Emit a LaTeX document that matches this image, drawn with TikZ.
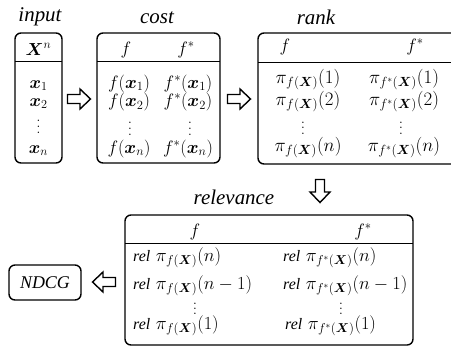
\RequirePackage{fix-cm}
\documentclass[tikz,border=0pt]{standalone}
\usepackage{amsmath}
\usepackage{bm}
\usepackage{fontspec}
\newfontfamily\labfont{Liberation Serif}
\newcommand\mydots[1]{\vbox{\baselineskip=#1\lineskiplimit=-20pt\hbox{.}\hbox{.}\hbox{.}}}
\tikzset{
  box/.style={draw, line width=1.4bp, rounded corners=6bp, inner sep=0pt},
  hdr/.style={line width=1bp},
  lab/.style={font=\fontsize{21}{23}\selectfont\labfont\itshape, inner sep=0pt, anchor=base},
  inent/.style={font=\fontsize{17.5}{19}\selectfont, inner sep=0pt, anchor=base},
  ent/.style={font=\fontsize{18}{20}\selectfont, inner sep=0pt, anchor=base},
  rkent/.style={font=\fontsize{19}{21}\selectfont, inner sep=0pt, anchor=base},
  rent/.style={font=\fontsize{18.5}{20}\selectfont, inner sep=0pt, anchor=base west},
  dts/.style={font=\fontsize{17}{19}\selectfont, inner sep=0pt, anchor=center},
  hollow/.pic={\draw[line width=1.4bp, line join=miter] (-11.5,-4.5) -- (1,-4.5) -- (1,-10) -- (11.5,0) -- (1,10) -- (1,4.5) -- (-11.5,4.5) -- cycle;},
}
\newcommand\rl{{\labfont\itshape\fontsize{16}{18}\selectfont rel}}
\begin{document}
\begin{tikzpicture}[x=1bp,y=-1bp]
\useasboundingbox (0,0) rectangle (451,349);
% boxes
\node[box, minimum width=47bp, minimum height=130bp] (inp) at (38.5,98) {};
\node[box, minimum width=123bp, minimum height=130bp] (cost) at (158.5,98) {};
\node[box, minimum width=200bp, minimum height=131bp] (rank) at (358,98.5) {};
\node[box, minimum width=288bp, minimum height=130bp] (rel) at (269,280) {};
\node[box, minimum width=72bp, minimum height=35bp] (ndcg) at (45,282.5) {};
% header lines
\draw[hdr] (15,61) -- (62,61);
\draw[hdr] (97,61) -- (220,61);
\draw[hdr] (258,62) -- (458,62);
\draw[hdr] (125,243) -- (413,243);
% labels
\node[lab] (linp) at (40,21) {input};
\node[lab] (lcost) at (157,23) {cost};
\node[lab] (lrank) at (316,24) {rank};
\node[lab] (lrel) at (234,204) {relevance};
\node[lab, font=\fontsize{18}{20}\selectfont\labfont\itshape] (tndcg) at (45,288.5) {NDCG};
% input
\node[inent] (xn) at (38.5,55) {$\bm{X}^n$};
\node[inent] (x1) at (38.5,88) {$\bm{x}_1$};
\node[inent] (x2) at (38.5,106) {$\bm{x}_2$};
\node[dts] (xd) at (38.5,127) {\mydots{6pt}};
\node[inent] (xnn) at (38.5,153) {$\bm{x}_n$};
% cost
\node[ent] (cf) at (126,54) {$f$};
\node[ent] (cfs) at (186,54) {$f^{*}$};
\node[ent] (c11) at (129,88) {$f(\bm{x}_1)$};
\node[ent] (c12) at (188,88) {$f^{*}(\bm{x}_1)$};
\node[ent] (c21) at (129,106.5) {$f(\bm{x}_2)$};
\node[ent] (c22) at (188,106.5) {$f^{*}(\bm{x}_2)$};
\node[dts] (cd1) at (130,129) {\mydots{6pt}};
\node[dts] (cd2) at (190,129) {\mydots{6pt}};
\node[ent] (cn1) at (129,153) {$f(\bm{x}_n)$};
\node[ent] (cn2) at (188,153) {$f^{*}(\bm{x}_n)$};
% rank
\node[ent] (rf) at (285,51) {$f$};
\node[ent] (rfs) at (415,51) {$f^{*}$};
\node[rkent] (r11) at (308,83) {$\pi_{f(\bm{X})}(1)$};
\node[rkent] (r12) at (404,83) {$\pi_{f^{*}(\bm{X})}(1)$};
\node[rkent] (r21) at (308,105) {$\pi_{f(\bm{X})}(2)$};
\node[rkent] (r22) at (404,105) {$\pi_{f^{*}(\bm{X})}(2)$};
\node[dts] (rd1) at (303,128) {\mydots{5.5pt}};
\node[dts] (rd2) at (401,128) {\mydots{5.5pt}};
\node[rkent] (rn1) at (308,151) {$\pi_{f(\bm{X})}(n)$};
\node[rkent] (rn2) at (404,151) {$\pi_{f^{*}(\bm{X})}(n)$};
% relevance
\node[ent] (lf) at (195,236) {$f$};
\node[ent] (lfs) at (363,236) {$f^{*}$};
\node[rent] (l11) at (133,261) {\rl{} $\pi_{f(\bm{X})}(n)$};
\node[rent] (l12) at (283,261) {\rl{} $\pi_{f^{*}(\bm{X})}(n)$};
\node[rent] (l21) at (133,289) {\rl{} $\pi_{f(\bm{X})}(n-1)$};
\node[rent] (l22) at (283,289) {\rl{} $\pi_{f^{*}(\bm{X})}(n-1)$};
\node[dts] (ld1) at (195,309) {\mydots{5pt}};
\node[dts] (ld2) at (341,309) {\mydots{5pt}};
\node[rent] (ln1) at (133,329) {\rl{} $\pi_{f(\bm{X})}(1)$};
\node[rent] (ln2) at (285,329) {\rl{} $\pi_{f^{*}(\bm{X})}(1)$};
% arrows
\pic (a1) at (79,99) {hollow};
\pic (a2) at (239,99) {hollow};
\pic[rotate=-90] (a3) at (320,191) {hollow};
\pic[rotate=180] (a4) at (104,282) {hollow};
\end{tikzpicture}
\end{document}
